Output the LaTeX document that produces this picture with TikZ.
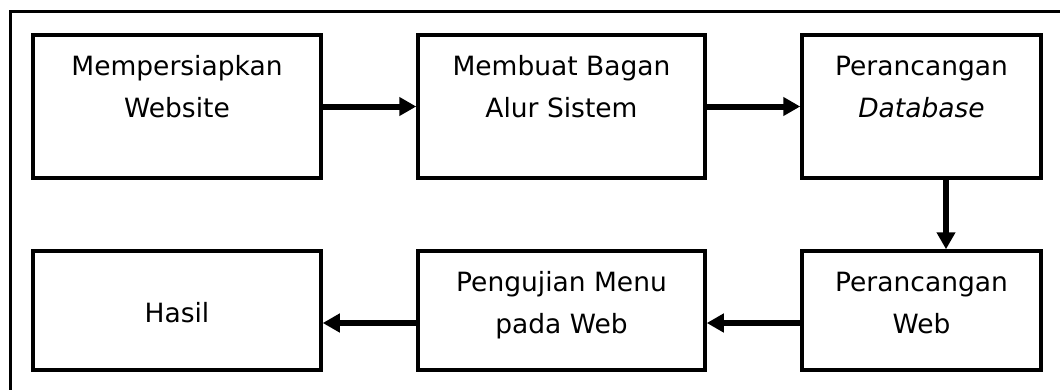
\documentclass[tikz,border=0pt]{standalone}
\usepackage{fontspec}
\setmainfont{DejaVu Sans}
\usetikzlibrary{arrows.meta}
\begin{document}
\begin{tikzpicture}[x=1pt,y=-1pt,
  stepbox/.style={draw=black,line width=3.5pt,rectangle,inner sep=0pt},
  txt/.style={anchor=base,align=center,inner sep=0pt,font=\fontsize{26.5}{41.5}\selectfont},
  flow/.style={line width=6pt,-{Triangle[length=17pt,width=18pt]}}]
  \useasboundingbox (0,0) rectangle (1060,389);
  \clip (0,0) rectangle (1060,389);
  % outer frame, running past the page edges on the right and bottom
  \draw[line width=3pt] (10,11) rectangle (1080,410);

  % process boxes
  \node[stepbox,minimum width=288pt,minimum height=143pt] (b1) at (177,106.5) {};
  \node[stepbox,minimum width=287pt,minimum height=143pt] (b2) at (561.5,106.5) {};
  \node[stepbox,minimum width=239pt,minimum height=143pt] (b3) at (921.5,106.5) {};
  \node[stepbox,minimum width=288pt,minimum height=119pt] (b4) at (177,310.5) {};
  \node[stepbox,minimum width=287pt,minimum height=119pt] (b5) at (561.5,310.5) {};
  \node[stepbox,minimum width=239pt,minimum height=119pt] (b6) at (921.5,310.5) {};

  % box captions (anchored on the baseline of the last line)
  \node[txt] (t1) at (177,117) {Mempersiapkan\\Website};
  \node[txt] (t2) at (561.5,117) {Membuat Bagan\\Alur Sistem};
  \node[txt] (t3) at (921.5,117) {Perancangan\\\textit{Database}};
  \node[txt] (t4) at (177,322) {Hasil};
  \node[txt] (t5) at (561.5,333) {Pengujian Menu\\pada Web};
  \node[txt] (t6) at (921.5,333) {Perancangan\\Web};

  % connectors
  \draw[flow] (b1.east) -- (b2.west);
  \draw[flow] (b2.east) -- (b3.west);
  \draw[flow] ([xshift=24.5pt]b3.south) -- ([xshift=24.5pt]b6.north);
  \draw[flow] ([yshift=-12.5pt]b6.west) -- ([yshift=-12.5pt]b5.east);
  \draw[flow] ([yshift=-12.5pt]b5.west) -- ([yshift=-12.5pt]b4.east);
\end{tikzpicture}
\end{document}
